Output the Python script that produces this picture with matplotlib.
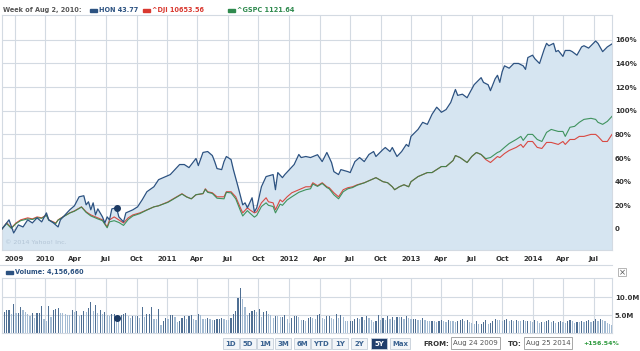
import matplotlib
matplotlib.use("Agg")
import numpy as np
import pandas as pd
import matplotlib.pyplot as plt
from matplotlib.patches import Rectangle

# -----------------------------
# Data (weeks counted from Aug 24 2009, values in % change)
# -----------------------------
START = pd.Timestamp("2009-08-24")

hon_weeks = [0, 3, 5, 7, 9, 11, 13, 15, 17, 19, 20, 22, 24, 25, 27, 29, 31, 33, 35, 36,
             37, 38, 39, 40, 41, 43, 44, 45, 46, 47, 49, 50, 52, 53, 56, 58, 60, 62, 65, 67,
             69, 72, 74, 76, 78, 80, 83, 84, 86, 88, 90, 91, 92, 94, 95, 96, 98, 99, 101, 103,
             104, 105, 107, 108, 109, 111, 113, 116, 117, 118, 120, 121, 123, 125, 127, 128, 130, 132, 135, 137,
             139, 141, 142, 144, 145, 148, 149, 151, 153, 155, 157, 159, 160, 163, 164, 166, 167, 169, 171, 173,
             174, 175, 178, 180, 182, 184, 186, 187, 188, 190, 192, 194, 195, 197, 199, 202, 205, 206, 208, 209,
             211, 212, 213, 214, 215, 217, 219, 221, 223, 224, 225, 227, 228, 230, 232, 233, 234, 236, 237, 238,
             240, 241, 243, 244, 246, 248, 249, 251, 252, 254, 255, 257, 259, 261]
hon_pct = [0, 7.7, -3.4, 3.4, 1.7, 7.7, 5.1, 9.4, 6.0, 13.6, 7.7, 5.1, 1.7, 7.7, 11.9, 16.2, 19.6, 27.2, 28.1, 20.4,
           23.0, 16.2, 22.1, 11.9, 17.0, 10.2, 5.1, 10.2, 7.7, 17.0, 17.9, 10.2, 6.0, 13.6, 16.2, 18.7, 24.7, 31.5, 35.7, 41.7,
           43.4, 46.0, 50.2, 54.5, 54.5, 51.9, 59.6, 53.6, 64.7, 65.5, 62.1, 57.0, 51.1, 50.2, 57.0, 61.3, 58.7, 50.2, 35.7, 20.4,
           22.1, 17.9, 26.4, 14.5, 17.9, 35.7, 44.3, 46.0, 33.2, 47.7, 43.4, 46.0, 50.2, 54.5, 63.0, 60.4, 61.3, 60.4, 62.8, 57.0,
           64.7, 56.2, 48.5, 46.0, 50.2, 48.5, 47.7, 57.0, 60.4, 57.0, 63.0, 65.5, 61.3, 67.2, 68.9, 65.5, 68.9, 61.3, 65.5, 71.5,
           69.8, 78.3, 84.2, 90.2, 88.5, 97.0, 103, 101, 98.7, 101, 107, 118, 113, 114, 111, 122, 128, 124, 122, 117,
           127, 130, 124, 133, 138, 136, 140, 140, 138, 135, 145, 147, 144, 140, 152, 157, 155, 157, 150, 151,
           146, 151, 151, 150, 147, 154, 155, 153, 155, 159, 157, 150, 154, 156.54]

idx_weeks = [0, 2, 4, 6, 8, 11, 13, 15, 17, 19, 20, 23, 24, 26, 29, 31, 34, 36, 38, 41,
             43, 45, 46, 48, 50, 52, 54, 56, 59, 62, 65, 67, 71, 74, 77, 79, 81, 83, 86, 87,
             88, 90, 92, 95, 96, 98, 100, 102, 103, 105, 106, 108, 109, 111, 113, 114, 116, 117, 119, 120,
             122, 124, 127, 130, 132, 133, 135, 137, 139, 140, 142, 144, 146, 148, 150, 152, 155, 158, 160, 163,
             165, 167, 168, 170, 172, 174, 175, 178, 180, 182, 184, 186, 188, 190, 193, 194, 196, 199, 201, 203,
             205, 207, 209, 212, 213, 215, 217, 220, 222, 223, 225, 227, 229, 231, 233, 235, 238, 240, 241, 243,
             245, 247, 249, 252, 254, 255, 257, 259, 261]
dji_pct = [0, 5.1, 0.9, 5.1, 7.7, 9.4, 8.5, 10.2, 9.4, 11.9, 7.7, 5.1, 7.7, 10.2, 13.6, 15.3, 18.7, 14.5, 11.9, 9.4,
           7.7, 1.7, 7.7, 10.2, 7.7, 5.1, 9.4, 11.9, 13.6, 16.2, 18.7, 19.6, 22.9, 26.4, 29.8, 27.2, 25.5, 28.9, 29.8, 34.0,
           31.5, 30.6, 27.2, 27.2, 31.5, 31.5, 27.2, 17.9, 13.6, 17.9, 16.2, 13.6, 14.5, 22.1, 26.4, 23.0, 22.1, 16.2, 24.7, 23.0,
           27.2, 30.6, 33.2, 35.7, 35.7, 39.1, 36.6, 39.1, 35.7, 34.9, 30.6, 27.2, 33.2, 34.9, 35.7, 37.4, 39.1, 41.7, 43.4, 40.0,
           39.1, 35.7, 33.2, 35.7, 37.4, 35.7, 40.0, 44.3, 46.0, 47.7, 47.7, 50.2, 52.8, 52.8, 57.9, 62.1, 60.4, 56.2, 61.3, 64.7,
           63.0, 58.7, 56.2, 61.3, 60.4, 63.8, 66.4, 69.0, 71.5, 69.0, 74.0, 74.0, 69.0, 68.1, 73.2, 73.2, 71.5, 74.0, 71.5, 75.7,
           75.7, 78.3, 78.3, 80.0, 80.0, 78.3, 74.0, 74.0, 80.0]
gspc_pct = [0, 4.5, 0.5, 4.5, 7.0, 8.5, 8.0, 9.5, 9.0, 11.5, 7.5, 4.5, 7.5, 10.0, 13.5, 15.0, 18.5, 14.0, 11.0, 8.5,
            7.0, 1.0, 6.0, 7.0, 5.5, 3.0, 8.0, 11.0, 13.0, 16.0, 18.7, 19.6, 22.5, 26.0, 29.5, 27.0, 25.5, 29.0, 30.0, 33.5,
            31.0, 30.0, 26.0, 25.5, 31.0, 30.5, 25.5, 15.5, 11.0, 15.5, 13.5, 10.0, 11.5, 19.0, 22.1, 20.0, 19.0, 13.6, 21.0, 20.0,
            24.5, 27.2, 31.0, 33.2, 34.0, 38.0, 36.0, 38.5, 35.0, 34.0, 28.9, 25.5, 31.5, 34.0, 35.0, 37.0, 39.0, 41.7, 43.4, 40.0,
            39.1, 35.7, 33.2, 35.7, 37.4, 35.7, 40.0, 44.3, 46.0, 47.7, 47.7, 50.2, 52.8, 52.8, 57.9, 62.1, 60.4, 56.2, 61.3, 64.7,
            63.0, 59.5, 60.4, 64.7, 65.5, 69.0, 72.3, 75.7, 78.3, 74.9, 80.0, 80.0, 75.7, 74.0, 81.7, 84.2, 82.5, 82.5, 78.3, 86.0,
            86.8, 90.2, 92.7, 93.6, 92.7, 90.2, 88.5, 91.0, 95.3]

# weekly HON volume, millions
volume_m = [5.5, 5.9, 6.3, 6.5, 5.2, 8.0, 5.6, 5.7, 7.1, 6.3, 5.8, 5.3, 4.8,
            5.6, 4.3, 5.6, 5.6, 7.6, 3.8, 3.2, 7.4, 4.4, 6.3, 6.7, 6.9, 5.6,
            5.5, 5.2, 5.0, 4.9, 6.3, 5.9, 6.2, 4.8, 5.0, 6.0, 5.9, 7.0, 8.7,
            6.0, 7.7, 5.6, 6.5, 5.3, 5.9, 5.0, 4.6, 5.2, 5.3, 4.16, 4.0, 5.0,
            5.2, 5.6, 4.6, 4.3, 4.8, 4.7, 4.8, 4.2, 7.1, 4.5, 5.2, 5.2, 7.2,
            4.0, 3.8, 6.6, 2.1, 3.2, 4.3, 3.8, 5.0, 5.0, 4.5, 3.0, 3.3, 4.3,
            4.6, 4.0, 4.8, 4.9, 3.8, 3.6, 5.2, 5.0, 4.0, 3.8, 4.2, 4.0, 3.5,
            3.7, 4.0, 4.0, 4.1, 3.9, 3.6, 3.5, 4.2, 5.2, 6.0, 9.6, 12.4, 9.4,
            7.2, 4.9, 5.7, 6.0, 6.5, 5.8, 6.8, 4.5, 5.9, 6.0, 5.2, 4.9, 4.3,
            4.8, 4.6, 4.4, 4.5, 4.9, 4.0, 2.9, 4.3, 4.6, 4.7, 4.4, 3.6, 3.7,
            3.3, 4.2, 4.5, 4.3, 3.8, 5.1, 5.2, 4.3, 4.0, 4.6, 4.8, 4.3, 3.9,
            5.3, 4.2, 5.1, 4.4, 3.4, 3.2, 3.2, 3.4, 3.9, 4.2, 3.8, 4.4, 3.5,
            4.6, 4.2, 3.6, 3.0, 3.4, 5.1, 3.7, 4.2, 3.6, 4.6, 3.9, 4.5, 3.6,
            4.5, 4.4, 4.5, 3.8, 4.7, 4.3, 3.9, 3.9, 3.9, 3.6, 3.5, 4.3, 3.7,
            3.4, 3.3, 3.4, 3.2, 3.1, 3.4, 3.5, 3.3, 3.0, 3.6, 3.4, 3.2, 3.0,
            3.2, 3.7, 3.9, 3.4, 3.5, 3.1, 2.8, 2.6, 3.3, 2.4, 2.6, 3.1, 3.6,
            2.4, 2.8, 3.4, 3.9, 3.7, 3.5, 3.3, 3.5, 3.8, 3.2, 3.5, 3.2, 3.6,
            3.4, 3.3, 3.7, 3.2, 3.4, 3.3, 3.0, 3.5, 3.2, 2.9, 3.1, 3.0, 3.2,
            3.6, 3.0, 3.3, 2.9, 3.1, 3.4, 3.0, 2.9, 3.2, 3.5, 3.3, 2.9, 3.1,
            3.0, 3.3, 3.1, 3.4, 3.5, 3.0, 3.2, 3.8, 3.4, 3.9, 3.5, 3.2, 2.8, 2.6, 2.2]

tick_labels = ["2009", "2010", "Apr", "Jul", "Oct", "2011", "Apr", "Jul", "Oct", "2012",
               "Apr", "Jul", "Oct", "2013", "Apr", "Jul", "Oct", "2014", "Apr", "Jul"]
y_ticks = [0, 20, 40, 60, 80, 100, 120, 140, 160]

# -----------------------------
# Styles
# -----------------------------
NAVY = "#2c5281"
RED = "#d9382f"
GREEN = "#2f8a4e"
FILL = "#d6e5f1"
GRID = "#d3dae2"
LABEL = "#333333"


def wk(w):
    return START + pd.to_timedelta(np.asarray(w, dtype=float) * 7, unit="D")


hon_dates = wk(hon_weeks)
idx_dates = wk(idx_weeks)
vol_dates = wk(np.arange(len(volume_m)))
x0, x1 = START, START + pd.Timedelta(days=1827)
tick_dates = pd.date_range("2009-10-01", "2014-07-01", freq="QS")

fig = plt.figure(figsize=(6.4, 3.51), dpi=100)
W, H = 640.0, 351.0

# -----------------------------
# Main price panel
# -----------------------------
ax = fig.add_axes([2 / W, 1 - 250 / H, 610 / W, 235 / H])
ax.fill_between(hon_dates, hon_pct, -30, color=FILL, lw=0, zorder=1)
ax.plot(idx_dates, dji_pct, color=RED, lw=0.8, alpha=0.9, zorder=3)
ax.plot(idx_dates, gspc_pct, color=GREEN, lw=0.8, alpha=0.9, zorder=3)
ax.plot(hon_dates, hon_pct, color=NAVY, lw=0.9, zorder=4)
ax.plot(wk(49), 17.9, "o", ms=4, color="#1c3a63", zorder=5)

ax.set_xlim(x0, x1)
ax.set_ylim(-17.8, 181)
ax.set_xticks(tick_dates)
ax.set_xticklabels(tick_labels)
ax.set_yticks(y_ticks)
ax.set_yticklabels([f"{v}%" if v else "0" for v in y_ticks])
ax.yaxis.tick_right()
ax.tick_params(axis="x", length=0, pad=4, labelsize=5, labelcolor=LABEL)
ax.tick_params(axis="y", length=0, pad=2, labelsize=5, labelcolor=LABEL)
for lab in ax.get_xticklabels() + ax.get_yticklabels():
    lab.set_fontweight("bold")
ax.grid(True, color=GRID, lw=0.8, zorder=0)
ax.set_axisbelow(True)
for s in ax.spines.values():
    s.set_color(GRID)
    s.set_linewidth(0.8)

# -----------------------------
# Volume panel
# -----------------------------
vax = fig.add_axes([2 / W, 1 - 333 / H, 610 / W, 55 / H])
vol = np.array(volume_m)
up = np.r_[True, vol[1:] >= vol[:-1]]
vax.bar(vol_dates, vol, width=3.5, color=np.where(up, "#4f6f93", "#a3bbd3"), lw=0, zorder=2)
vax.plot(wk(49), 4.16, "o", ms=4, color="#1c3a63", zorder=5)
vax.set_xlim(x0, x1)
vax.set_ylim(0, 15.3)
vax.set_xticks(tick_dates)
vax.set_xticklabels([])
vax.set_yticks([5, 10])
vax.set_yticklabels(["5.0M", "10.0M"])
vax.yaxis.tick_right()
vax.tick_params(axis="x", length=0)
vax.tick_params(axis="y", length=0, pad=2, labelsize=5, labelcolor=LABEL)
for lab in vax.get_yticklabels():
    lab.set_fontweight("bold")
vax.grid(True, color=GRID, lw=0.8, zorder=0)
vax.set_axisbelow(True)
for s in vax.spines.values():
    s.set_color(GRID)
    s.set_linewidth(0.8)

# -----------------------------
# Overlay for header, labels and controls (pixel coords)
# -----------------------------
ov = fig.add_axes([0, 0, 1, 1])
ov.set_xlim(0, W)
ov.set_ylim(H, 0)
ov.axis("off")
ov.patch.set_alpha(0)

ov.text(3, 10, "Week of Aug 2, 2010:", fontsize=4.7, color="#555555", fontweight="bold", va="center")
for x, c, label in [(90, NAVY, "HON 43.77"), (143, RED, "^DJI 10653.56"), (228, GREEN, "^GSPC 1121.64")]:
    ov.add_patch(Rectangle((x, 8.5), 7, 3, color=c))
    ov.text(x + 9, 10, label, fontsize=4.7, color=c, fontweight="bold", va="center")

ov.text(5, 243, "\u00a9 2014 Yahoo! Inc.", fontsize=4.6, color="#b3c5d6", va="center")
ov.plot([0, 612], [265, 265], color=GRID, lw=0.8)

ov.add_patch(Rectangle((6, 270.5), 7, 3, color=NAVY))
ov.text(15, 272, "Volume: 4,156,660", fontsize=4.7, color=NAVY, fontweight="bold", va="center")
ov.add_patch(Rectangle((618, 268), 8, 8, fill=False, ec="#aaaaaa", lw=0.6))
ov.text(622, 272.3, "\u00d7", fontsize=6, color="#555555", ha="center", va="center")

buttons = [("1D", 231), ("5D", 248), ("1M", 265), ("3M", 283), ("6M", 302),
           ("YTD", 321), ("1Y", 340), ("2Y", 359), ("5Y", 379), ("Max", 400)]
for label, cx in buttons:
    w = 20 if len(label) == 3 else 16
    active = label == "5Y"
    ov.add_patch(Rectangle((cx - w / 2, 338), w, 11, fc="#1f3d6b" if active else "#f2f5f8",
                           ec="#c5ced9", lw=0.6))
    ov.text(cx, 343.5, label, fontsize=5, fontweight="bold", ha="center", va="center",
            color="white" if active else "#3b6391")

ov.text(423, 343.5, "FROM:", fontsize=5, fontweight="bold", color=LABEL, va="center")
ov.add_patch(Rectangle((451, 337), 49, 12, fc="white", ec="#999999", lw=0.6))
ov.text(475.5, 343.5, "Aug 24 2009", fontsize=5, color="#555555", ha="center", va="center")
ov.text(508, 343.5, "TO:", fontsize=5, fontweight="bold", color=LABEL, va="center")
ov.add_patch(Rectangle((524, 337), 48, 12, fc="white", ec="#999999", lw=0.6))
ov.text(548, 343.5, "Aug 25 2014", fontsize=5, color="#555555", ha="center", va="center")
ov.text(583, 343.5, "+156.54%", fontsize=4.5, fontweight="bold", color="#2e9a3e", va="center")

fig.savefig("out.png", dpi=100)
